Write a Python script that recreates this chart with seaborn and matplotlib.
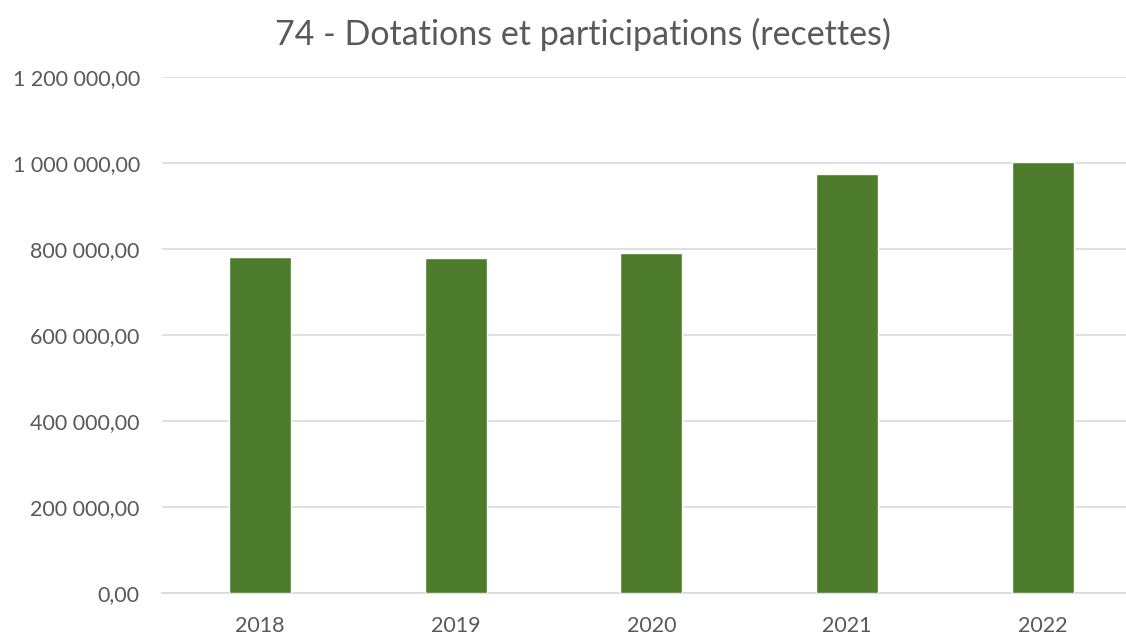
import matplotlib
matplotlib.use("Agg")
import matplotlib.pyplot as plt
import seaborn as sns
import pandas as pd
from matplotlib.ticker import FuncFormatter, MultipleLocator

years = ["2018", "2019", "2020", "2021", "2022"]
values = [781800, 779500, 790200, 974400, 1001000]
title = "74 - Dotations et participations (recettes)"

sns.set_theme(style="white")
plt.rcParams['font.family'] = ['Lato', 'DejaVu Sans']

df = pd.DataFrame({"year": years, "value": values})

fig = plt.figure(figsize=(11.26, 6.36), dpi=100)
ax = fig.add_axes([162/1126, (636-592.7)/636, 978.6/1126, (592.7-76.7)/636])

sns.barplot(data=df, x="year", y="value", color="#4C7B2B", width=0.317,
            saturation=1, ax=ax, zorder=3)

ax.set_ylim(0, 1200000)
ax.set_xlim(-0.5, 4.5)
ax.yaxis.set_major_locator(MultipleLocator(200000))

def fr_fmt(v, pos):
    s = f"{v:,.2f}"
    s = s.replace(",", " ").replace(".", ",")
    return s
ax.yaxis.set_major_formatter(FuncFormatter(fr_fmt))

ax.grid(axis="y", color="#D9D9D9", linewidth=1.2, zorder=0)
ax.grid(axis="x", visible=False)
for s in ["top", "right", "left"]:
    ax.spines[s].set_visible(False)
ax.spines["bottom"].set_color("#D9D9D9")
ax.spines["bottom"].set_linewidth(1.2)

ax.set_xlabel("")
ax.set_ylabel("")
ax.tick_params(axis="y", length=0, pad=16, labelsize=15.5, labelcolor="#595959")
ax.tick_params(axis="x", length=0, pad=17, labelsize=15.5, labelcolor="#595959")

fig.text(583/1126, 1-34/636, title, ha="center", va="center", fontsize=24.5, color="#595959")

fig.savefig("out.png", dpi=100)
